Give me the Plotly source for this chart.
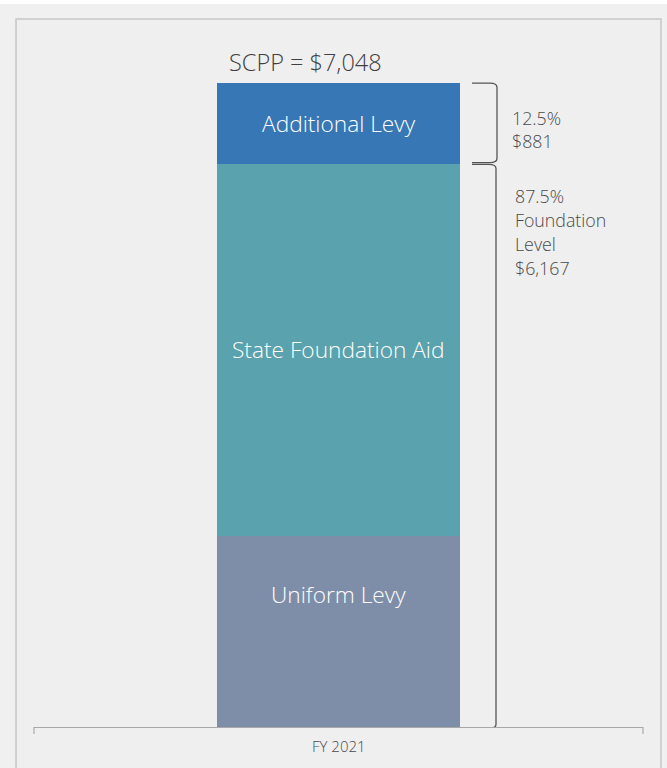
import plotly.graph_objects as go

# ---- data ----
categories = ["FY 2021"]
segments = ["Uniform Levy", "State Foundation Aid", "Additional Levy"]
values = [2090, 4077, 881]
colors = ["#7f8ea8", "#5aa2ad", "#3777b5"]
scpp_total = 7048
foundation_level = 6167
additional_levy = 881
pct_additional = "12.5%"
pct_foundation = "87.5%"

W, H = 667, 768
L, R, T, B = 34, 24, 40, 41
plot_w = W - L - R
plot_h = H - T - B
y_max = 7519

def px_to_x(px):
    return (px - (L + plot_w / 2)) / plot_w

def px_to_paper_x(px):
    return (px - L) / plot_w

def py_to_paper_y(py):
    return (H - B - py) / plot_h

fig = go.Figure()
for name, v, c in zip(segments, values, colors):
    fig.add_trace(go.Bar(
        x=[0], y=[v], name=name, marker=dict(color=c, line=dict(width=0)),
        width=0.4, hoverinfo="name+y",
    ))

font_family = "Segoe UI, Open Sans, Noto Sans, sans-serif"

cum = 0
label_offsets = {"Uniform Levy": 1445, "State Foundation Aid": None, "Additional Levy": None}
annotations = []
for name, v in zip(segments, values):
    ypos = label_offsets[name] if label_offsets[name] is not None else cum + v / 2
    annotations.append(dict(x=0, y=ypos, text=name, showarrow=False,
                            font=dict(color="white", size=22.7, family=font_family, weight=300)))
    cum += v

annotations.append(dict(x=px_to_x(305), y=scpp_total, yshift=3, yanchor="bottom",
                        text=f"SCPP = ${scpp_total:,}", showarrow=False,
                        font=dict(color="#404040", size=23.5, family=font_family, weight=300)))

side_font = dict(color="#4a4a4a", size=17.8, family=font_family, weight=300)
for i, line in enumerate([pct_additional, f"${additional_levy:,}"]):
    annotations.append(dict(x=px_to_x(510), y=scpp_total, yshift=-(35 + 23 * i),
                            xanchor="left", yanchor="middle", text=line,
                            showarrow=False, font=side_font))
for i, line in enumerate([pct_foundation, "Foundation", "Level", f"${foundation_level:,}"]):
    annotations.append(dict(x=px_to_x(513), y=foundation_level, yshift=-(32 + 24.3 * i),
                            xanchor="left", yanchor="middle", text=line,
                            showarrow=False, font=side_font))
annotations.append(dict(x=0, y=0, xref="x", yref="paper", yshift=-19, yanchor="middle",
                        text=categories[0], showarrow=False,
                        font=dict(color="#4a4a4a", size=15, family=font_family, weight=300)))

shapes = []
shapes.append(dict(type="rect", xref="paper", yref="paper",
                   x0=px_to_paper_x(16), x1=px_to_paper_x(661),
                   y0=py_to_paper_y(775), y1=py_to_paper_y(19),
                   line=dict(color="#c6c6c6", width=1.5), fillcolor="#efefef", layer="below"))
shapes.append(dict(type="rect", xref="paper", yref="paper",
                   x0=px_to_paper_x(-5), x1=px_to_paper_x(675),
                   y0=py_to_paper_y(4), y1=py_to_paper_y(-5),
                   line=dict(width=0), fillcolor="#ffffff", layer="below"))
for px in (L, L + plot_w):
    xx = px_to_paper_x(px)
    shapes.append(dict(type="line", xref="paper", yref="paper", x0=xx, x1=xx,
                       y0=0, y1=py_to_paper_y(H - B + 7),
                       line=dict(color="#a8a8a8", width=1.2)))

xa, xb = px_to_x(472), px_to_x(497)
dy = 45
def brace(y_top, y_bot, xs, xe):
    return (f"M {xs},{y_top} L {xe - 0.012},{y_top} Q {xe},{y_top} {xe},{y_top - dy} "
            f"L {xe},{y_bot + dy} Q {xe},{y_bot} {xe - 0.012},{y_bot} L {xs},{y_bot}")
shapes.append(dict(type="path", xref="x", yref="y",
                   path=brace(scpp_total, foundation_level + 10, xa, xb),
                   line=dict(color="#555555", width=1.3)))
shapes.append(dict(type="path", xref="x", yref="y",
                   path=brace(foundation_level - 10, 0 - 15, xa, px_to_x(496)),
                   line=dict(color="#555555", width=1.3)))

fig.update_layout(
    barmode="stack",
    width=W, height=H,
    margin=dict(l=L, r=R, t=T, b=B),
    paper_bgcolor="#f0f0f0",
    plot_bgcolor="rgba(0,0,0,0)",
    showlegend=False,
    annotations=annotations,
    shapes=shapes,
    xaxis=dict(range=[-0.5, 0.5], showticklabels=False, ticks="", showgrid=False,
               zeroline=False, showline=True, linecolor="#a8a8a8", linewidth=1.2,
               fixedrange=True),
    yaxis=dict(range=[0, y_max], visible=False, showgrid=False, zeroline=False,
               fixedrange=True),
)

fig.write_html("out.html", config={"displayModeBar": False},
               post_script="document.body.style.margin='0';")
